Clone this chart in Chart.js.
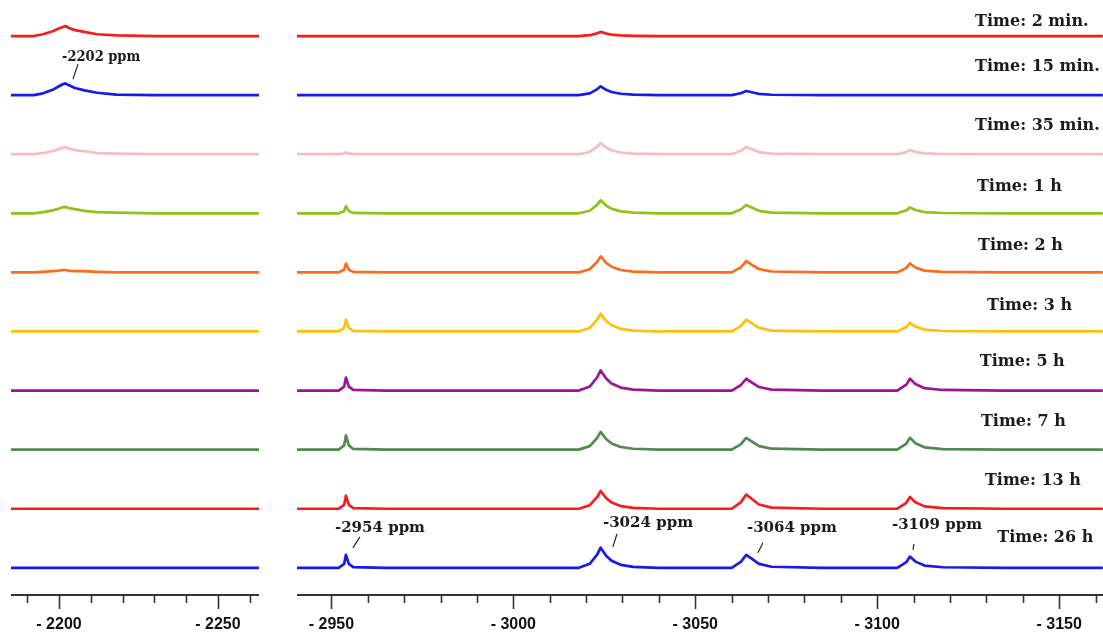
<!DOCTYPE html>
<html>
<head>
<meta charset="utf-8">
<script src="https://cdn.jsdelivr.net/npm/chart.js@4.4.1/dist/chart.umd.min.js"></script>
<style>
  html, body { margin: 0; padding: 0; background: #ffffff; width: 1103px; height: 633px; overflow: hidden; }
  #left  { position: absolute; left: 11px;  top: 0; }
  #right { position: absolute; left: 297px; top: 0; }
</style>
</head>
<body>
<canvas id="left" width="248" height="633"></canvas>
<canvas id="right" width="806" height="633"></canvas>
<script>
// Acquisition times, top spectrum first
const timeLabels = ['Time: 2 min.', 'Time: 15 min.', 'Time: 35 min.', 'Time: 1 h', 'Time: 2 h',
                    'Time: 3 h', 'Time: 5 h', 'Time: 7 h', 'Time: 13 h', 'Time: 26 h'];

// Vertical stacking offset of each spectrum (intensity units)
const stackOffsets = [900, 800, 700, 600, 500, 400, 300, 200, 100, 0];

// Chemical shift sampling (ppm) for the two axis segments
const leftPpm = [-2184, -2192, -2195, -2198, -2200, -2201, -2202, -2203, -2205, -2208, -2212, -2218, -2230, -2245, -2263];
const rightPpm = [-2940, -2948, -2952, -2953.5, -2954, -2954.8, -2956, -2965, -2990, -3012,
                  -3018, -3021, -3023, -3024, -3025.5, -3027, -3029.5, -3033, -3040, -3055,
                  -3060, -3062.5, -3064, -3065.5, -3067.5, -3071, -3085, -3100, -3105.5, -3108,
                  -3109, -3110.5, -3113, -3118, -3135, -3162];

// Intensities, -2185 … -2263 ppm segment
const left2min  = [0, 0, 3, 8, 13, 15, 17, 14, 10, 7, 3, 1, 0, 0, 0];
const left15min = [0, 0, 3, 9, 15, 18, 20, 17, 12, 8, 4, 1, 0, 0, 0];
const left35min = [0, 0, 2, 5, 9, 11, 12, 10, 7, 5, 2, 1, 0, 0, 0];
const left1h    = [0, 0, 2, 5, 8, 10, 11, 9, 7, 4, 2, 1, 0, 0, 0];
const left2h    = [0, 0, 1, 2, 3, 4, 4, 3, 2, 2, 1, 0, 0, 0, 0];
const left3h    = [0, 0, 0, 0, 0, 0, 0, 0, 0, 0, 0, 0, 0, 0, 0];
const left5h    = [0, 0, 0, 0, 0, 0, 0, 0, 0, 0, 0, 0, 0, 0, 0];
const left7h    = [0, 0, 0, 0, 0, 0, 0, 0, 0, 0, 0, 0, 0, 0, 0];
const left13h   = [0, 0, 0, 0, 0, 0, 0, 0, 0, 0, 0, 0, 0, 0, 0];
const left26h   = [0, 0, 0, 0, 0, 0, 0, 0, 0, 0, 0, 0, 0, 0, 0];

// Intensities, -2940 … -3162 ppm segment
const right2min  = [0,0,0,0,0,0,0,0,0,0, 0,1.4,4.6,7,4.2,2.5,1,0.4,0,0, 0,0,0,0,0,0,0,0,0,0, 0,0,0,0,0,0];
const right15min = [0,0,0,0,0,0,0,0,0,0, 0,3,9.8,15,9,5.3,2.3,0.8,0,0, 0,3.2,7,4.9,2.1,0.6,0,0,0,0, 0,0,0,0,0,0];
const right35min = [0,0,0,0.9,3,0.9,0.2,0,0,0, 0,3.8,12.4,19,11.4,6.7,2.9,1,0,0, 0,5.4,12,8.4,3.6,1,0,0,0,3.5, 7,3.9,1.4,0.4,0,0];
const right1h    = [0,0,0,3.6,12,3.6,0.6,0,0,0, 0,4.4,14.3,22,13.2,7.7,3.3,1.1,0,0, 0,6.3,14,9.8,4.2,1.1,0,0,0,5, 10,5.5,2,0.5,0,0];
const right2h    = [0,0,0,4.5,15,4.5,0.8,0,0,0, 0,5.4,17.6,27,16.2,9.5,4.1,1.4,0,0, 0,8.6,19,13.3,5.7,1.5,0,0,0,7.5, 15,8.3,3,0.8,0,0];
const right3h    = [0,0,0,6,20,6,1,0,0,0, 0,6,19.5,30,18,10.5,4.5,1.5,0,0, 0,9,20,14,6,1.6,0,0,0,7.5, 15,8.3,3,0.8,0,0];
const right5h    = [0,0,0,6.6,22,6.6,1.1,0,0,0, 0,6.8,22.1,34,20.4,11.9,5.1,1.7,0,0, 0,9,20,14,6,1.6,0,0,0,10, 20,11,4,1,0,0];
const right7h    = [0,0,0,7.2,24,7.2,1.2,0,0,0, 0,6,19.5,30,18,10.5,4.5,1.5,0,0, 0,9,20,14,6,1.6,0,0,0,10, 20,11,4,1,0,0];
const right13h   = [0,0,0,6.6,22,6.6,1.1,0,0,0, 0,6,19.5,30,18,10.5,4.5,1.5,0,0, 0,10.8,24,16.8,7.2,1.9,0,0,0,10, 20,11,4,1,0,0];
const right26h   = [0,0,0,6.6,22,6.6,1.1,0,0,0, 0,6.8,22.1,34,20.4,11.9,5.1,1.7,0,0, 0,9.9,22,15.4,6.6,1.8,0,0,0,9.5, 19,10.5,3.8,1,0,0];

// Axis ticks (every 10 ppm) and their printed labels
const leftTicks = [-2190, -2200, -2210, -2220, -2230, -2240, -2250, -2260];
const leftTickText = ['', '- 2200', '', '', '', '', '- 2250', ''];
const rightTicks = [-2950, -2960, -2970, -2980, -2990, -3000, -3010, -3020, -3030, -3040, -3050,
                    -3060, -3070, -3080, -3090, -3100, -3110, -3120, -3130, -3140, -3150, -3160];
const rightTickText = ['- 2950', '', '', '', '', '- 3000', '', '', '', '', '- 3050',
                       '', '', '', '', '- 3100', '', '', '', '', '- 3150', ''];

// Assigned resonances
const leftPeakText = ['-2202 ppm'];
const leftPeakPpm = [-2202];
const rightPeakText = ['-2954 ppm', '-3024 ppm', '-3064 ppm', '-3109 ppm'];
const rightPeakPpm = [-2954, -3024, -3064, -3109];

// ---- styling ----
const traceColours = ['#f41c1c', '#1a1ae6', '#f5bcc4', '#8ec21c', '#fb6c1c',
                      '#fcc10c', '#a01494', '#4e8a52', '#f41c1c', '#1a1ae6'];
const leftSeries = [left2min, left15min, left35min, left1h, left2h, left3h, left5h, left7h, left13h, left26h];
const rightSeries = [right2min, right15min, right35min, right1h, right2h, right3h, right5h, right7h, right13h, right26h];

const AXIS_HEIGHT = 38;   // axis line to bottom of the canvas

function buildDatasets(ppm, series) {
  return series.map((vals, i) => ({
    label: timeLabels[i],
    data: ppm.map((p, k) => ({ x: p, y: stackOffsets[i] + vals[k] })),
    borderColor: traceColours[i],
    borderWidth: 2.7,
    borderJoinStyle: 'round',
    pointRadius: 0,
    tension: 0,
    fill: false
  }));
}

// Draws tick marks, time captions and peak call-outs using the chart's scales
const stackText = {
  id: 'stackText',
  afterDatasetsDraw(chart, args, opts) {
    const { ctx } = chart;
    const x = chart.scales.x, y = chart.scales.y;
    const squeeze = opts.squeeze || 1;
    ctx.save();
    ctx.fillStyle = '#1c1c1c';
    ctx.textAlign = 'left';
    ctx.textBaseline = 'middle';
    (opts.captions || []).forEach(c => {
      ctx.font = 'bold 16px "DejaVu Serif"';
      ctx.fillText(c.text, x.getPixelForValue(c.ppm), y.getPixelForValue(c.offset) + c.lift);
    });
    (opts.peaks || []).forEach(p => {
      const px = x.getPixelForValue(p.ppm);
      const base = y.getPixelForValue(p.offset);
      ctx.save();
      ctx.translate(px + p.textDx, base + p.textDy);
      ctx.scale(squeeze, 1);
      ctx.font = 'bold 15px "DejaVu Serif"';
      ctx.fillText(p.text, 0, 0);
      ctx.restore();
      ctx.beginPath();
      ctx.moveTo(px + p.lead[0], base + p.lead[1]);
      ctx.lineTo(px + p.lead[2], base + p.lead[3]);
      ctx.lineWidth = 1.2;
      ctx.strokeStyle = '#222';
      ctx.stroke();
    });
    ctx.restore();
  },
  afterDraw(chart) {
    const { ctx } = chart;
    const x = chart.scales.x;
    ctx.save();
    ctx.strokeStyle = '#333';
    ctx.lineWidth = 1.6;
    x.ticks.forEach(t => {
      const px = Math.round(x.getPixelForValue(t.value)) + 0.5;
      const len = t.label ? 14 : 8;
      ctx.beginPath();
      ctx.moveTo(px, x.top);
      ctx.lineTo(px, x.top + len);
      ctx.stroke();
    });
    ctx.restore();
  }
};

function makeChart(canvasId, ppm, series, range, ticks, tickText, pluginOpts) {
  return new Chart(document.getElementById(canvasId), {
    type: 'line',
    data: { datasets: buildDatasets(ppm, series) },
    plugins: [stackText],
    options: {
      responsive: false,
      animation: false,
      events: [],
      layout: { padding: 0, autoPadding: false },
      plugins: { legend: { display: false }, tooltip: { enabled: false }, stackText: pluginOpts },
      scales: {
        x: {
          type: 'linear',
          reverse: true,
          min: range[0],
          max: range[1],
          afterBuildTicks(scale) {
            scale.ticks = ticks.map(v => ({ value: v }));
          },
          afterFit(scale) {
            scale.paddingLeft = 0;
            scale.paddingRight = 0;
            scale.height = AXIS_HEIGHT;
          },
          grid: { display: false, drawTicks: false },
          border: { display: true, color: '#333', width: 2 },
          ticks: {
            autoSkip: false,
            maxRotation: 0,
            padding: 22,
            color: '#111',
            font: { family: '"Liberation Sans", Arial, sans-serif', size: 16, weight: 'bold', lineHeight: 1 },
            callback(value) {
              const idx = ticks.indexOf(value);
              return idx >= 0 ? tickText[idx] : '';
            }
          }
        },
        y: { type: 'linear', display: false, min: -46, max: 961 }
      }
    }
  });
}

makeChart('left', leftPpm, leftSeries, [-2262.9, -2184.9], leftTicks, leftTickText, {
  squeeze: 0.87,
  captions: [],
  peaks: [
    { text: leftPeakText[0], ppm: leftPeakPpm[0], offset: stackOffsets[1], textDx: -3.4, textDy: -38, lead: [12.6, -31, 7.6, -16] }
  ]
});

const captionPpm = [-3126.9, -3126.9, -3126.9, -3127.4, -3127.7, -3130.2, -3128.2, -3128.5, -3129.6, -3133.0];
const captionLift = [-14, -28, -28, -26, -27, -26, -29, -28, -28, -30];

makeChart('right', rightPpm, rightSeries, [-3162.05, -2940.55], rightTicks, rightTickText, {
  squeeze: 1,
  captions: timeLabels.map((t, i) => ({ text: t, ppm: captionPpm[i], offset: stackOffsets[i], lift: captionLift[i] })),
  peaks: [
    { text: rightPeakText[0], ppm: rightPeakPpm[0], offset: stackOffsets[9], textDx: -11,  textDy: -40, lead: [14, -31, 7, -20] },
    { text: rightPeakText[1], ppm: rightPeakPpm[1], offset: stackOffsets[9], textDx: 2.3,  textDy: -45, lead: [16.3, -34, 12.3, -21] },
    { text: rightPeakText[2], ppm: rightPeakPpm[2], offset: stackOffsets[9], textDx: 0.7,  textDy: -40, lead: [16.7, -25, 11.7, -15] },
    { text: rightPeakText[3], ppm: rightPeakPpm[3], offset: stackOffsets[9], textDx: -18,  textDy: -43, lead: [4, -24, 3, -18] }
  ]
});
</script>
</body>
</html>
